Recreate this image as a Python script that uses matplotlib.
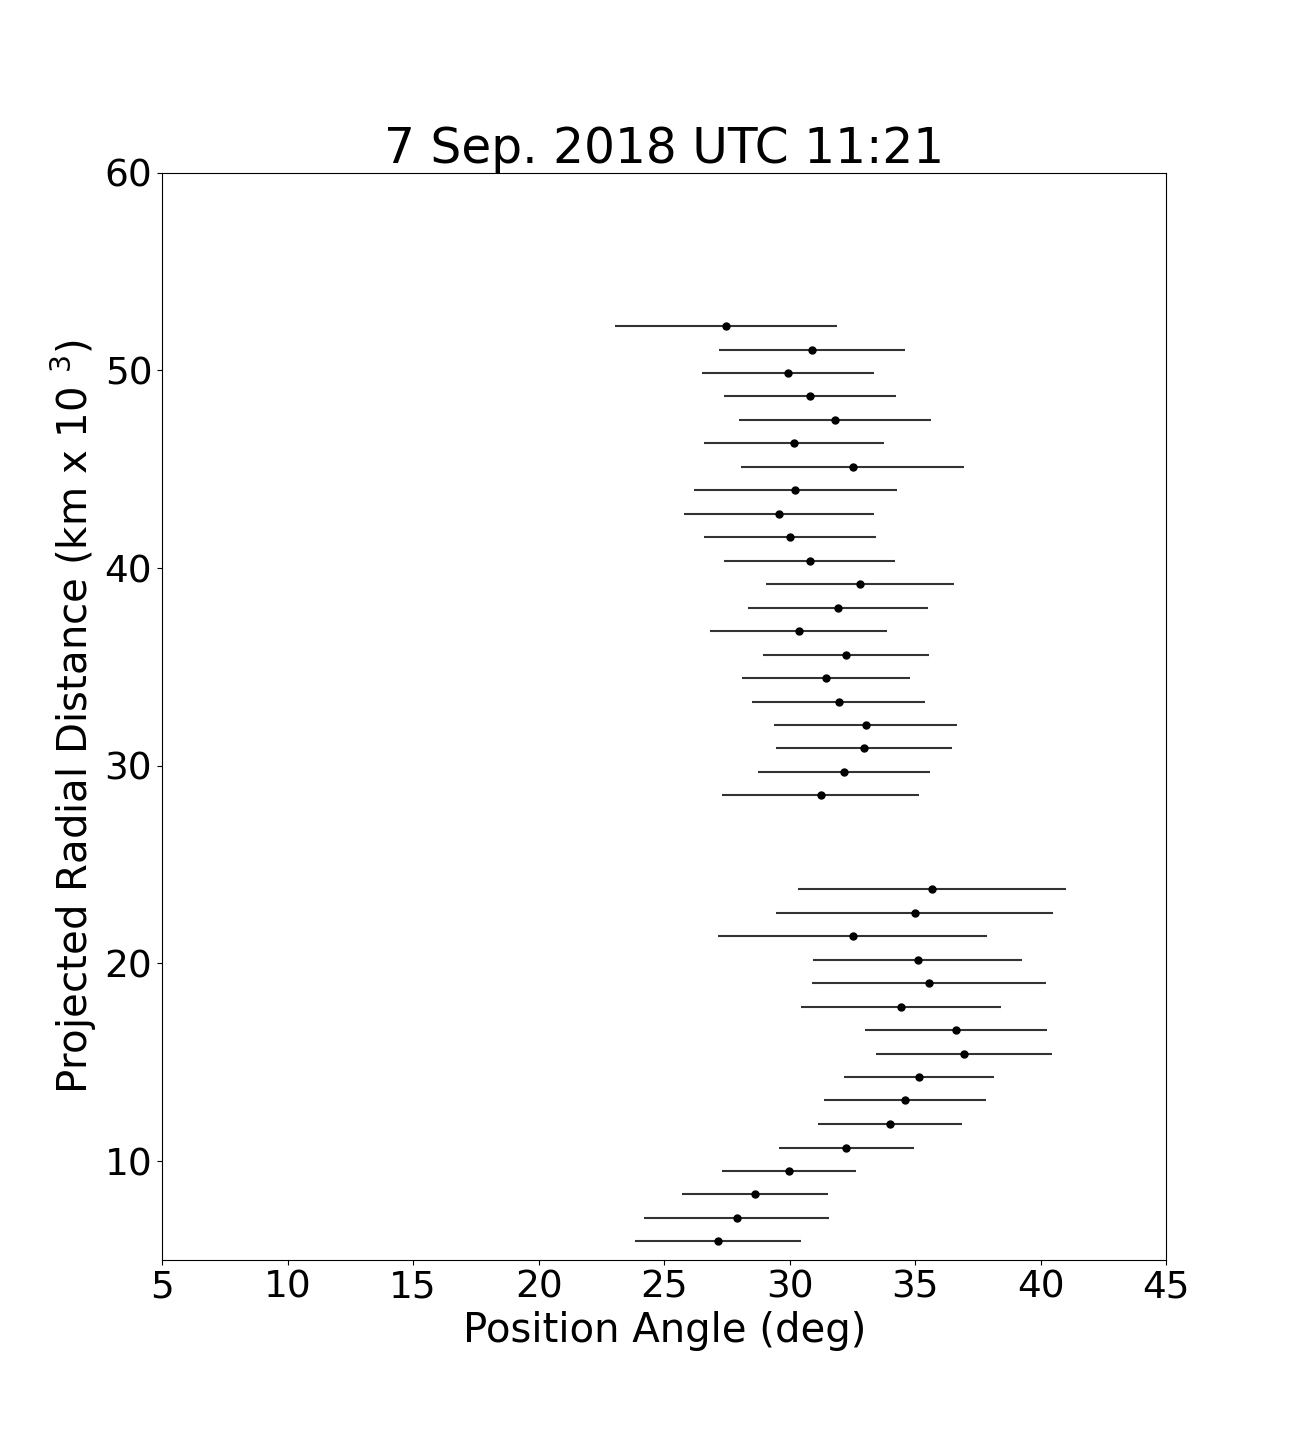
import matplotlib
matplotlib.use('Agg')
import matplotlib.pyplot as plt

# position angle (deg), half-width of error (deg), projected radial distance (km x 10^3)
pos_angle = [27.46, 30.88, 29.93, 30.80, 31.80, 30.17, 32.51, 30.22, 29.57, 30.01,
             30.80, 32.79, 31.92, 30.36, 32.24, 31.44, 31.95, 33.03, 32.95, 32.16,
             31.23,
             35.66, 34.98, 32.51, 35.10, 35.54, 34.43, 36.62, 36.94, 35.14, 34.59,
             33.99, 32.26, 29.97, 28.61, 27.88, 27.14]
pa_err = [4.43, 3.70, 3.44, 3.42, 3.82, 3.60, 4.44, 4.04, 3.78, 3.44,
          3.40, 3.74, 3.58, 3.52, 3.31, 3.35, 3.44, 3.64, 3.50, 3.42,
          3.92,
          5.33, 5.51, 5.35, 4.16, 4.65, 4.00, 3.62, 3.52, 2.98, 3.22,
          2.86, 2.70, 2.66, 2.90, 3.70, 3.32]
distance = [52.25, 51.06, 49.88, 48.69, 47.50, 46.31, 45.13, 43.94, 42.75, 41.56,
            40.38, 39.19, 38.00, 36.81, 35.63, 34.44, 33.25, 32.07, 30.88, 29.69,
            28.50,
            23.75, 22.57, 21.38, 20.19, 19.00, 17.82, 16.63, 15.44, 14.25, 13.07,
            11.88, 10.69, 9.50, 8.32, 7.13, 5.94]

fig = plt.figure(figsize=(12.96, 14.4), dpi=100)
ax = fig.add_subplot(111)
fig.subplots_adjust(left=0.125, right=0.9, top=0.88, bottom=0.125)

ax.errorbar(pos_angle, distance, xerr=pa_err, fmt='o', color='k',
            ecolor='#333333', elinewidth=1.5, markersize=5)

ax.set_xlim(5, 45)
ax.set_ylim(5, 60)
ax.set_xticks([5, 10, 15, 20, 25, 30, 35, 40, 45])
ax.set_yticks([10, 20, 30, 40, 50, 60])
ax.tick_params(labelsize=27)

ax.set_xlabel('Position Angle (deg)', fontsize=29)
ax.set_ylabel('Projected Radial Distance (km x 10 $^3$)', fontsize=29)
ax.set_title('7 Sep. 2018 UTC 11:21', fontsize=35)

fig.savefig('out.png', dpi=100)
